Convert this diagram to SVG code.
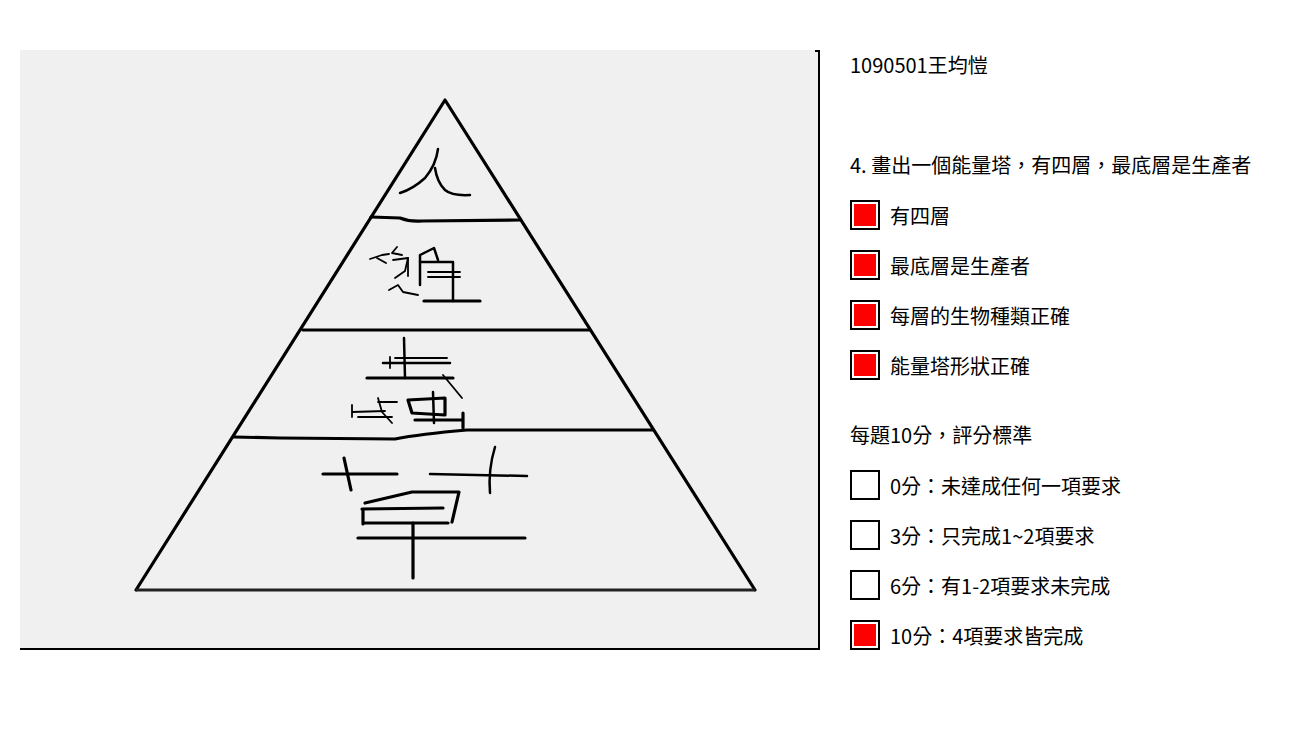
<svg xmlns="http://www.w3.org/2000/svg" width="1300" height="750" viewBox="0 0 1300 750">
<style>
.t{font-family:"Noto Sans CJK TC","Noto Sans CJK SC",sans-serif;font-size:20px;fill:#000}
.pen{fill:none;stroke:#000;stroke-width:2.5;stroke-linecap:round;stroke-linejoin:round}
.thin{fill:none;stroke:#000;stroke-width:1.8;stroke-linecap:round;stroke-linejoin:round}
.edge{fill:none;stroke:#000;stroke-width:3.2;stroke-linecap:round;stroke-linejoin:round}
.box{fill:#fff;stroke:#000;stroke-width:2}
.on{fill:#f00}
</style>
<rect width="1300" height="750" fill="#fff"/>
<g id="drawing">
<rect x="20" y="50" width="798" height="599" fill="#f0f0f0"/>
<path d="M815,51 H819 V649 H20" fill="none" stroke="#000" stroke-width="2"/>
<g id="pyramid">
<path class="edge" d="M136,590 L445,100 L755,590"/>
<path d="M136,590 H755" fill="none" stroke="#222" stroke-width="3"/>
<path class="edge" stroke-width="2.8" d="M371,217 L400,218 Q410,222 422,221 L520,220"/>
<path class="edge" d="M303,330 H590"/>
<path class="edge" stroke-width="2.8" d="M234,437 L280,438 L395,439 Q420,434 467,430 L653,430"/>
</g>
<g id="layer-person">
<path class="pen" d="M438,149 Q436,165 425,178 Q413,189 400,193"/>
<path class="pen" d="M435,168 Q437,182 445,190 Q452,196 470,195"/>
</g>
<g id="layer-chicken">
<path class="thin" d="M370,259 L382,255 L389,254"/>
<path class="thin" d="M377,258 L386,263"/>
<path class="thin" d="M397,247 L392,253 L402,255"/>
<path class="thin" d="M393,260 L408,258 L405,271 L395,278"/>
<path class="thin" d="M389,290 L398,285 L403,292 L418,295"/>
<path class="thin" d="M408,258 V276"/>
<path class="pen" d="M420,285 V255 L434,248 L438,260"/>
<path class="pen" d="M420,262 H453 V301"/>
<path class="thin" d="M428,272 H460 M428,277 H460"/>
<path class="edge" stroke-width="3" d="M424,301 H480"/>
</g>
<g id="layer-insect">
<path class="pen" d="M404,338 L405,378"/>
<path class="thin" d="M395,358 H447"/>
<path class="pen" d="M383,363 H450"/>
<path class="thin" d="M390,357 V368"/>
<path class="edge" stroke-width="2.8" d="M367,378 H453"/>
<path class="thin" d="M443,375 L462,398"/>
<path class="thin" d="M352,405 V417 M352,412 L385,411 M358,417 H392"/>
<path class="thin" d="M378,398 L382,412 L392,423 M378,402 H397"/>
<path class="edge" d="M408,400 L445,398 L445,415 L412,413 Z"/>
<path class="pen" d="M433,392 L434,423"/>
<path class="edge" d="M415,420 H463 M463,413 V428"/>
</g>
<g id="layer-grass">
<path class="edge" d="M323,474 H397"/>
<path class="edge" d="M344,458 L351,490"/>
<path class="pen" d="M430,474 L527,476"/>
<path class="pen" d="M495,447 Q488,470 490,493"/>
<path class="edge" d="M365,503 L412,492 H459 L452,522"/>
<path class="edge" d="M363,510 V524 M363,523 H448"/>
<path class="edge" d="M362,509 L443,508"/>
<path class="edge" d="M358,538 H525"/>
<path class="edge" d="M413,523 V578"/>
</g>
</g>
<g id="panel">
<text class="t" x="850" y="73">1090501王均愷</text>
<text class="t" x="850" y="173">4. 畫出一個能量塔，有四層，最底層是生產者</text>
<g id="c1"><rect class="box" x="851" y="201" width="28" height="28"/><rect class="on" x="854" y="204" width="22" height="22"/><text class="t" x="890" y="224">有四層</text></g>
<g id="c2"><rect class="box" x="851" y="251" width="28" height="28"/><rect class="on" x="854" y="254" width="22" height="22"/><text class="t" x="890" y="274">最底層是生產者</text></g>
<g id="c3"><rect class="box" x="851" y="301" width="28" height="28"/><rect class="on" x="854" y="304" width="22" height="22"/><text class="t" x="890" y="324">每層的生物種類正確</text></g>
<g id="c4"><rect class="box" x="851" y="351" width="28" height="28"/><rect class="on" x="854" y="354" width="22" height="22"/><text class="t" x="890" y="374">能量塔形狀正確</text></g>
<text class="t" x="850" y="443">每題10分，評分標準</text>
<g id="s0"><rect class="box" x="851" y="471" width="28" height="28"/><text class="t" x="890" y="494">0分：未達成任何一項要求</text></g>
<g id="s3"><rect class="box" x="851" y="521" width="28" height="28"/><text class="t" x="890" y="544">3分：只完成1~2項要求</text></g>
<g id="s6"><rect class="box" x="851" y="571" width="28" height="28"/><text class="t" x="890" y="594">6分：有1-2項要求未完成</text></g>
<g id="s10"><rect class="box" x="851" y="621" width="28" height="28"/><rect class="on" x="854" y="624" width="22" height="22"/><text class="t" x="890" y="644">10分：4項要求皆完成</text></g>
</g>
</svg>
